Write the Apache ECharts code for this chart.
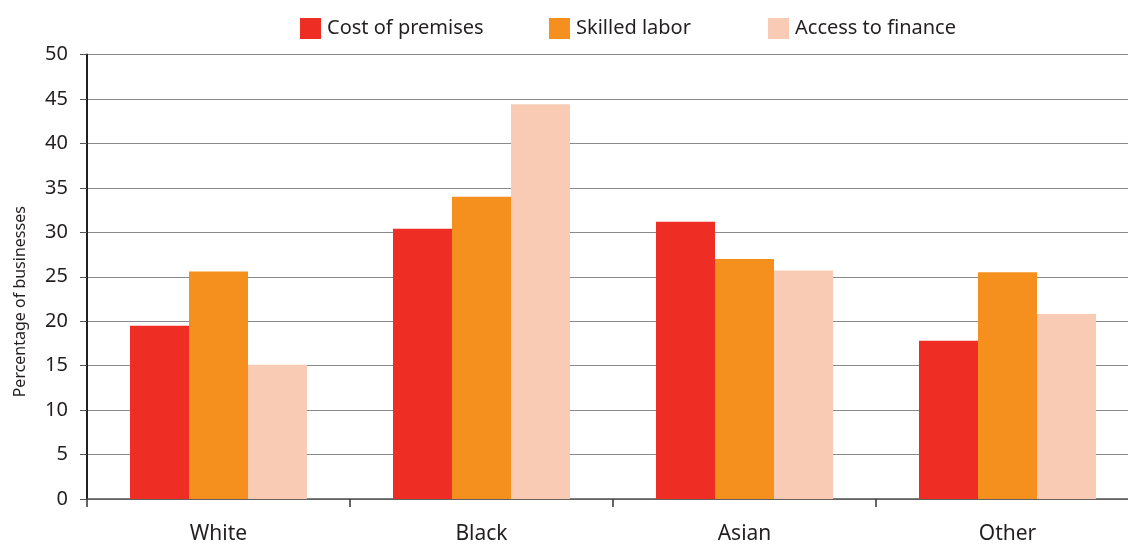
<!DOCTYPE html>
<html>
<head>
<meta charset="utf-8">
<script src="https://cdn.jsdelivr.net/npm/echarts@6/dist/echarts.min.js"></script>
<style>
  html, body { margin: 0; padding: 0; background: #fff; overflow: hidden; }
  /* the plot runs slightly past the right edge of the window */
  #chart { width: 1140px; height: 545px; }
</style>
</head>
<body>
<div id="chart"></div>
<script>
// Obstacles reported by businesses, by ethnic group of owner (%)
const categories = ['White', 'Black', 'Asian', 'Other'];
const costOfPremises = [19.5, 30.4, 31.2, 17.8];
const skilledLabor = [25.6, 34.0, 27.0, 25.5];
const accessToFinance = [15.1, 44.4, 25.7, 20.8];
const seriesNames = ['Cost of premises', 'Skilled labor', 'Access to finance'];
const colors = ['#EE2E24', '#F5901E', '#F9CBB5'];

const FONT = 'Noto Sans';
const chart = echarts.init(document.getElementById('chart'), null, { renderer: 'canvas' });

const makeBar = (name, data, color) => ({
  name,
  type: 'bar',
  data,
  barWidth: 59,
  barGap: '0%',
  itemStyle: { color },
  emphasis: { disabled: true }
});

// one legend block per series so each key sits where it should
const legendLefts = [300, 549, 768];
const legends = seriesNames.map((name, i) => ({
  left: legendLefts[i],
  top: 18,
  padding: 0,
  itemWidth: 21,
  itemHeight: 21,
  icon: 'rect',
  textStyle: { fontFamily: FONT, fontSize: 20, color: '#231f20', padding: [2, 0, 0, 1] },
  data: [name]
}));

chart.setOption({
  animation: false,
  color: colors,
  textStyle: { fontFamily: FONT, color: '#231f20' },
  legend: legends,
  grid: { left: 87, top: 54.5, width: 1052, height: 448 },
  xAxis: {
    type: 'category',
    data: categories,
    axisLine: { lineStyle: { color: '#555', width: 1.5 } },
    axisTick: { show: true, length: 8, lineStyle: { color: '#333', width: 1.5 } },
    axisLabel: { fontFamily: FONT, fontSize: 21, color: '#231f20', margin: 25 }
  },
  yAxis: {
    type: 'value',
    min: 0,
    max: 50,
    interval: 5,
    name: 'Percentage of businesses',
    nameLocation: 'middle',
    nameGap: 59,
    nameTextStyle: { fontFamily: FONT, fontSize: 16, color: '#231f20', padding: [0, 50, 0, 0] },
    axisLine: { show: true, lineStyle: { color: '#231f20', width: 2 } },
    axisTick: { show: true, length: 7, lineStyle: { color: '#555' } },
    axisLabel: { fontFamily: FONT, fontSize: 20, color: '#231f20', margin: 19 },
    splitLine: { lineStyle: { color: '#8a8a8a', width: 1.2 } }
  },
  series: [
    makeBar(seriesNames[0], costOfPremises, colors[0]),
    makeBar(seriesNames[1], skilledLabor, colors[1]),
    makeBar(seriesNames[2], accessToFinance, colors[2])
  ]
});
</script>
</body>
</html>
